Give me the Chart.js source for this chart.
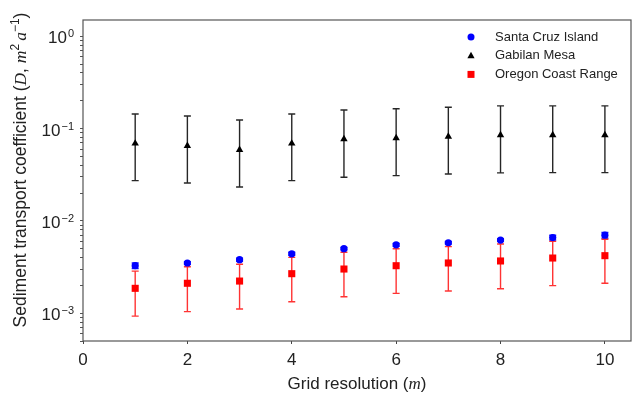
<!DOCTYPE html>
<html>
<head>
<meta charset="utf-8">
<script src="https://cdn.jsdelivr.net/npm/chart.js@4.4.0/dist/chart.umd.min.js"></script>
<style>
  html, body { margin: 0; padding: 0; background: #fff; }
</style>
</head>
<body>
<canvas id="chart" width="636" height="395"></canvas>
<script>
////// data
const resolution = [1, 2, 3, 4, 5, 6, 7, 8, 9, 10]

const santaCruz     = [0.00327, 0.0035, 0.0038, 0.0044, 0.0050, 0.0055, 0.0058, 0.0062, 0.0066, 0.0070]
const santaCruzLow  = [0.00305, 0.00338, 0.00366, 0.00425, 0.00485, 0.00532, 0.00562, 0.0060, 0.0062, 0.0065]
const santaCruzHigh = [0.00350, 0.00362, 0.00394, 0.00458, 0.00515, 0.00568, 0.00598, 0.0064, 0.0070, 0.0075]

const gabilan     = [0.069, 0.065, 0.059, 0.069, 0.077, 0.079, 0.082, 0.085, 0.085, 0.085]
const gabilanLow  = [0.0273, 0.0257, 0.0233, 0.0273, 0.0297, 0.0309, 0.0322, 0.0331, 0.0333, 0.0333]
const gabilanHigh = [0.144, 0.137, 0.124, 0.144, 0.159, 0.164, 0.170, 0.176, 0.176, 0.176]

const oregon     = [0.00186, 0.00211, 0.00223, 0.00268, 0.00301, 0.00327, 0.0035, 0.00368, 0.00396, 0.0042]
const oregonLow  = [0.00093, 0.00104, 0.00111, 0.00133, 0.00151, 0.00164, 0.00174, 0.00184, 0.00199, 0.00211]
const oregonHigh = [0.00286, 0.00319, 0.00339, 0.00403, 0.00457, 0.0050, 0.00526, 0.00562, 0.0060, 0.00632]

const seriesNames = ['Santa Cruz Island', 'Gabilan Mesa', 'Oregon Coast Range']
const xTicks = [0, 2, 4, 6, 8, 10]
const yMajorTicks = [0.001, 0.01, 0.1, 1]
const yExponents = ['0', '\u22121', '\u22122', '\u22123']   // for 1, 0.1, 0.01, 0.001

const SANS = '"Liberation Sans", Arial, sans-serif'
const SERIF = '"Liberation Serif", "Times New Roman", serif'
const TEXT = '#222'

const toPoints = (ys) => resolution.map((r, i) => ({ x: r, y: ys[i] }))

////// error bars, drawn under the markers
const errorBars = {
  id: 'errorBars',
  beforeDatasetsDraw(chart) {
    const ctx = chart.ctx
    const xs = chart.scales.x, ys = chart.scales.y
    chart.data.datasets.forEach((ds) => {
      ctx.save()
      ctx.strokeStyle = ds.errColor
      ctx.lineWidth = 1.4
      ds.data.forEach((p, i) => {
        const x = xs.getPixelForValue(p.x)
        const lo = ys.getPixelForValue(ds.errLow[i])
        const hi = ys.getPixelForValue(ds.errHigh[i])
        ctx.beginPath()
        ctx.moveTo(x, lo); ctx.lineTo(x, hi)
        ctx.moveTo(x - 3.5, lo); ctx.lineTo(x + 3.5, lo)
        ctx.moveTo(x - 3.5, hi); ctx.lineTo(x + 3.5, hi)
        ctx.stroke()
      })
      ctx.restore()
    })
  }
}

////// frame round the plot area
const frame = {
  id: 'frame',
  beforeDatasetsDraw(chart) {
    const { ctx, chartArea: a } = chart
    ctx.save()
    ctx.strokeStyle = '#555'
    ctx.lineWidth = 1.2
    ctx.strokeRect(a.left, a.top, a.right - a.left, a.bottom - a.top)
    ctx.restore()
  }
}

////// helper: text made of pieces with their own fonts (italic symbols, superscripts)
function drawPieces(ctx, pieces, cx, cy) {
  let total = 0
  pieces.forEach((p) => { ctx.font = p.font; total += ctx.measureText(p.t).width + (p.gap || 0) })
  let x = cx - total / 2
  pieces.forEach((p) => {
    ctx.font = p.font
    ctx.fillText(p.t, x, cy + (p.rise || 0))
    x += ctx.measureText(p.t).width + (p.gap || 0)
  })
}

const titles = {
  id: 'titles',
  afterDraw(chart) {
    const { ctx, chartArea: a } = chart
    ctx.save()
    ctx.fillStyle = TEXT
    ctx.textBaseline = 'alphabetic'
    ctx.textAlign = 'left'

    // x title
    drawPieces(ctx, [
      { t: 'Grid resolution (', font: '17px ' + SANS },
      { t: 'm', font: 'italic 17px ' + SERIF },
      { t: ')', font: '17px ' + SANS }
    ], (a.left + a.right) / 2, 389)

    // y title, rotated
    ctx.translate(26, 170)
    ctx.rotate(-Math.PI / 2)
    drawPieces(ctx, [
      { t: 'Sediment transport coefficient (', font: '17.5px ' + SANS },
      { t: 'D', font: 'italic 17.5px ' + SERIF },
      { t: ', ', font: '17.5px ' + SANS },
      { t: 'm', font: 'italic 17.5px ' + SERIF },
      { t: '2', font: '12px ' + SANS, rise: -7, gap: 3 },
      { t: 'a', font: 'italic 17.5px ' + SERIF },
      { t: '\u22121', font: '12px ' + SANS, rise: -7 },
      { t: ')', font: '17.5px ' + SANS }
    ], 0, 0)
    ctx.restore()

    // y tick labels 10^n
    const ys = chart.scales.y
    ctx.save()
    ctx.fillStyle = TEXT
    ctx.textAlign = 'right'
    ctx.textBaseline = 'alphabetic'
    yMajorTicks.forEach((v) => {
      const y = ys.getPixelForValue(v)
      const exp = yExponents[Math.round(-Math.log10(v))]
      ctx.font = '11px ' + SANS
      const w = ctx.measureText(exp).width
      ctx.fillText(exp, 74, y + 1)
      ctx.font = '17px ' + SANS
      ctx.fillText('10', 74 - w - 1, y + 7)
    })
    ctx.restore()
  }
}

////// legend inside the plot, top right
const legendBox = {
  id: 'legendBox',
  afterDraw(chart) {
    const { ctx, chartArea: a } = chart
    ctx.save()
    chart.data.datasets.forEach((ds, i) => {
      const y = a.top + 17 + i * 18.7
      const x = a.right - 160
      ctx.fillStyle = ds.backgroundColor
      ctx.beginPath()
      if (ds.pointStyle === 'circle') {
        ctx.arc(x, y, 3.5, 0, Math.PI * 2)
      } else if (ds.pointStyle === 'triangle') {
        ctx.moveTo(x, y - 4); ctx.lineTo(x + 3.6, y + 2.6); ctx.lineTo(x - 3.6, y + 2.6); ctx.closePath()
      } else {
        ctx.rect(x - 3.5, y - 3.5, 7, 7)
      }
      ctx.fill()
      ctx.fillStyle = TEXT
      ctx.font = '13px ' + SANS
      ctx.textBaseline = 'middle'
      ctx.fillText(ds.label, a.right - 136, y)
    })
    ctx.restore()
  }
}

const chart = new Chart(document.getElementById('chart'), {
  type: 'scatter',
  data: {
    datasets: [
      {
        label: seriesNames[0], data: toPoints(santaCruz), errLow: santaCruzLow, errHigh: santaCruzHigh,
        pointStyle: 'circle', pointRadius: 3.6, backgroundColor: '#0000ff', borderColor: '#0000ff',
        borderWidth: 0, errColor: 'rgba(0,0,255,0.9)'
      },
      {
        label: seriesNames[1], data: toPoints(gabilan), errLow: gabilanLow, errHigh: gabilanHigh,
        pointStyle: 'triangle', pointRadius: 4.3, backgroundColor: '#000000', borderColor: '#000000',
        borderWidth: 0, errColor: 'rgba(0,0,0,0.85)'
      },
      {
        label: seriesNames[2], data: toPoints(oregon), errLow: oregonLow, errHigh: oregonHigh,
        pointStyle: 'rect', pointRadius: 5, backgroundColor: '#ff0000', borderColor: '#ff0000',
        borderWidth: 0, errColor: 'rgba(255,0,0,0.8)'
      }
    ]
  },
  options: {
    responsive: false,
    animation: false,
    devicePixelRatio: 1,
    layout: { padding: { top: 20, right: 2, left: 0, bottom: 0 } },
    plugins: { legend: { display: false }, tooltip: { enabled: false } },
    scales: {
      x: {
        type: 'linear', min: 0, max: 10.5,
        afterBuildTicks: (s) => { s.ticks = xTicks.map((v) => ({ value: v })) },
        afterFit: (s) => { s.height = 54 },
        grid: { drawOnChartArea: false, drawTicks: true, tickLength: 3, color: '#444' },
        border: { display: false },
        ticks: { font: { family: SANS, size: 17 }, color: TEXT, padding: 6, maxRotation: 0, autoSkip: false }
      },
      y: {
        type: 'logarithmic', min: 0.0005, max: 1.5,
        afterBuildTicks: (s) => {
          const t = []
          yMajorTicks.concat([0.0001]).forEach((dec) => {
            for (let k = 1; k <= 9; k++) {
              const v = dec * k
              if (v >= s.min && v <= s.max) t.push({ value: v })
            }
          })
          s.ticks = t.sort((p, q) => p.value - q.value)
        },
        afterFit: (s) => { s.width = 83 },
        grid: { drawOnChartArea: false, drawTicks: true, tickLength: 3, color: '#555' },
        border: { display: false },
        ticks: { display: false, autoSkip: false }
      }
    }
  },
  plugins: [frame, errorBars, titles, legendBox]
})
</script>
</body>
</html>
